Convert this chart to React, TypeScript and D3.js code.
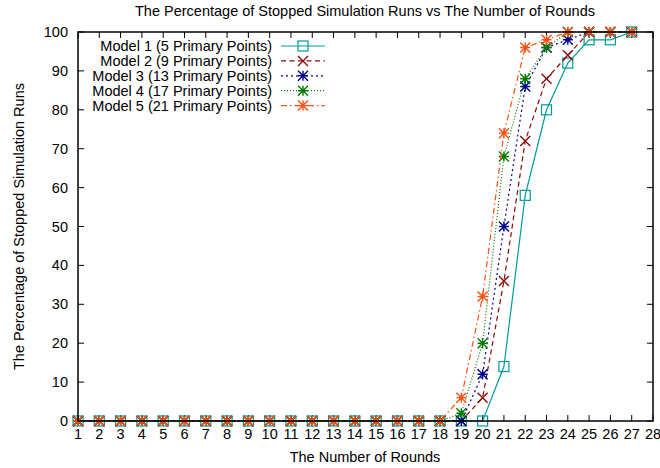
import { useEffect, useRef } from 'react';
import * as d3 from 'd3';

const WIDTH = 660;
const HEIGHT = 468;
const MARGIN = { top: 32, right: 7, bottom: 47, left: 78 };

const TITLE = 'The Percentage of Stopped Simulation Runs vs The Number of Rounds';
const X_LABEL = 'The Number of Rounds';
const Y_LABEL = 'The Percentage of Stopped Simulation Runs';

const rounds = d3.range(1, 28);
const xTicks = d3.range(1, 29);
const yTicks = d3.range(0, 101, 10);

const model1 = [0, 0, 0, 0, 0, 0, 0, 0, 0, 0, 0, 0, 0, 0, 0, 0, 0, 0, 0, 0, 14, 58, 80, 92, 98, 98, 100];
const model2 = [0, 0, 0, 0, 0, 0, 0, 0, 0, 0, 0, 0, 0, 0, 0, 0, 0, 0, 0, 6, 36, 72, 88, 94, 100, 100, 100];
const model3 = [0, 0, 0, 0, 0, 0, 0, 0, 0, 0, 0, 0, 0, 0, 0, 0, 0, 0, 0, 12, 50, 86, 96, 98, 100, 100, 100];
const model4 = [0, 0, 0, 0, 0, 0, 0, 0, 0, 0, 0, 0, 0, 0, 0, 0, 0, 0, 2, 20, 68, 88, 96, 100, 100, 100, 100];
const model5 = [0, 0, 0, 0, 0, 0, 0, 0, 0, 0, 0, 0, 0, 0, 0, 0, 0, 0, 6, 32, 74, 96, 98, 100, 100, 100, 100];

type Marker = 'square' | 'cross' | 'star';

const series: { name: string; values: number[]; color: string; dash: string; marker: Marker }[] = [
  { name: 'Model 1 (5 Primary Points)', values: model1, color: '#009a9a', dash: '', marker: 'square' },
  { name: 'Model 2 (9 Primary Points)', values: model2, color: '#8b0a0a', dash: '5,3.5', marker: 'cross' },
  { name: 'Model 3 (13 Primary Points)', values: model3, color: '#00008f', dash: '2,3', marker: 'star' },
  { name: 'Model 4 (17 Primary Points)', values: model4, color: '#007a00', dash: '1,2', marker: 'star' },
  { name: 'Model 5 (21 Primary Points)', values: model5, color: '#ff5010', dash: '6,3,1.5,3', marker: 'star' },
];

const FONT = '"Liberation Sans", Arial, Helvetica, sans-serif';
const FS = 14.5;

function drawMarker(g: d3.Selection<SVGGElement, unknown, null, undefined>, kind: Marker, cx: number, cy: number, color: string) {
  const r = 5;
  if (kind === 'square') {
    g.append('rect')
      .attr('x', cx - r).attr('y', cy - r)
      .attr('width', 2 * r).attr('height', 2 * r)
      .attr('fill', 'none').attr('stroke', color).attr('stroke-width', 1.2);
    return;
  }
  const paths = [`M${cx - r},${cy - r}L${cx + r},${cy + r}`, `M${cx - r},${cy + r}L${cx + r},${cy - r}`];
  if (kind === 'star') {
    paths.push(`M${cx - r},${cy}L${cx + r},${cy}`, `M${cx},${cy - r}L${cx},${cy + r}`);
  }
  g.append('path')
    .attr('d', paths.join(''))
    .attr('fill', 'none').attr('stroke', color).attr('stroke-width', 1.4);
}

export default function App() {
  const ref = useRef<SVGSVGElement>(null);

  useEffect(() => {
    const svg = d3.select(ref.current);
    svg.selectAll('*').remove();

    const innerWidth = WIDTH - MARGIN.left - MARGIN.right;
    const innerHeight = HEIGHT - MARGIN.top - MARGIN.bottom;

    const x = d3.scaleLinear().domain([1, 28]).range([MARGIN.left, MARGIN.left + innerWidth]);
    const y = d3.scaleLinear().domain([0, 100]).range([MARGIN.top + innerHeight, MARGIN.top]);

    const root = svg.append('g').attr('font-family', FONT).attr('fill', '#000');

    // title and axis labels
    root.append('text').attr('x', 365).attr('y', 15.5).attr('text-anchor', 'middle')
      .attr('font-size', FS).text(TITLE);
    root.append('text').attr('x', 365).attr('y', 462).attr('text-anchor', 'middle')
      .attr('font-size', FS).text(X_LABEL);
    root.append('text')
      .attr('transform', `translate(23.5,${MARGIN.top + innerHeight / 2}) rotate(-90)`)
      .attr('text-anchor', 'middle').attr('font-size', FS).text(Y_LABEL);

    // ticks (inward, mirrored)
    const tickLen = 6;
    const ticks = root.append('g').attr('stroke', '#000').attr('stroke-width', 1);
    xTicks.forEach((t) => {
      ticks.append('line').attr('x1', x(t)).attr('x2', x(t)).attr('y1', y(0)).attr('y2', y(0) - tickLen);
      ticks.append('line').attr('x1', x(t)).attr('x2', x(t)).attr('y1', y(100)).attr('y2', y(100) + tickLen);
    });
    yTicks.forEach((t) => {
      ticks.append('line').attr('x1', x(1)).attr('x2', x(1) + tickLen).attr('y1', y(t)).attr('y2', y(t));
      ticks.append('line').attr('x1', x(28)).attr('x2', x(28) - tickLen).attr('y1', y(t)).attr('y2', y(t));
    });

    root.append('g').selectAll('text').data(xTicks).join('text')
      .attr('x', (d) => x(d)).attr('y', y(0) + 18).attr('text-anchor', 'middle')
      .attr('font-size', FS).text((d) => d);
    root.append('g').selectAll('text').data(yTicks).join('text')
      .attr('x', x(1) - 10).attr('y', (d) => y(d) + 5).attr('text-anchor', 'end')
      .attr('font-size', FS).text((d) => d);

    // legend
    const legend = root.append('g');
    series.forEach((s, i) => {
      const ly = 46 + i * 14.9;
      legend.append('text').attr('x', 272).attr('y', ly + 5).attr('text-anchor', 'end')
        .attr('font-size', FS).text(s.name);
      legend.append('line').attr('x1', 281).attr('x2', 325).attr('y1', ly).attr('y2', ly)
        .attr('stroke', s.color).attr('stroke-width', 1.2).attr('stroke-dasharray', s.dash || null);
      drawMarker(legend as any, s.marker, 303, ly, s.color);
    });

    // series
    const line = d3.line<number>().x((_, i) => x(rounds[i])).y((d) => y(d));
    series.forEach((s) => {
      const g = root.append('g');
      g.append('path').attr('d', line(s.values))
        .attr('fill', 'none').attr('stroke', s.color).attr('stroke-width', 1.2)
        .attr('stroke-dasharray', s.dash || null);
      s.values.forEach((v, i) => drawMarker(g as any, s.marker, x(rounds[i]), y(v), s.color));
    });

    // frame
    root.append('rect')
      .attr('x', x(1)).attr('y', y(100))
      .attr('width', innerWidth).attr('height', innerHeight)
      .attr('fill', 'none').attr('stroke', '#000').attr('stroke-width', 1.5);
  }, []);

  return (
    <svg ref={ref} width={WIDTH} height={HEIGHT}
      style={{ position: 'absolute', left: 0, top: 0, background: '#fff' }} />
  );
}
